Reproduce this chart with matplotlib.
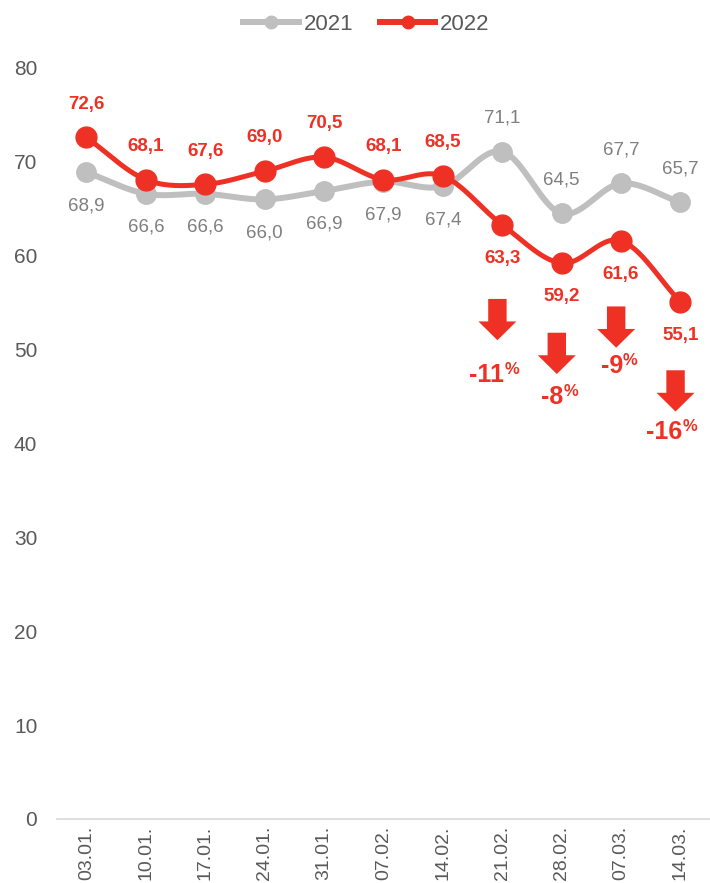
import numpy as np
import matplotlib
matplotlib.use('Agg')
import matplotlib.pyplot as plt
from matplotlib.lines import Line2D
from matplotlib.patches import FancyArrow

plt.rcParams['font.family'] = ['Liberation Sans', 'DejaVu Sans']

# weekly values, 2021 vs 2022
weeks = ['03.01.', '10.01.', '17.01.', '24.01.', '31.01.', '07.02.', '14.02.',
         '21.02.', '28.02.', '07.03.', '14.03.']
vals_2021 = [68.9, 66.6, 66.6, 66.0, 66.9, 67.9, 67.4, 71.1, 64.5, 67.7, 65.7]
vals_2022 = [72.6, 68.1, 67.6, 69.0, 70.5, 68.1, 68.5, 63.3, 59.2, 61.6, 55.1]

# label above (1) or below (-1) the point
pos_2021 = [-1, -1, -1, -1, -1, -1, -1, 1, 1, 1, 1]
pos_2022 = [1, 1, 1, 1, 1, 1, 1, -1, -1, -1, -1]

# drop markers: week index, arrow top, text centre (y units)
drop_idx = [7, 8, 9, 10]
drop_top = [55.4, 51.8, 54.6, 47.8]
drop_text_y = [47.3, 44.9, 48.3, 41.2]

RED = '#EE3124'
GREY = '#BFBFBF'
GREY_TXT = '#7F7F7F'


def smooth(y, n=30):
    # catmull-rom pass through the points, similar to a spreadsheet "smoothed line"
    y = np.asarray(y, dtype=float)
    x = np.arange(len(y), dtype=float)
    px = np.concatenate([[2 * x[0] - x[1]], x, [2 * x[-1] - x[-2]]])
    py = np.concatenate([[2 * y[0] - y[1]], y, [2 * y[-1] - y[-2]]])
    xs, ys = [], []
    t = np.linspace(0, 1, n, endpoint=False)
    for i in range(1, len(px) - 2):
        for arr, out in ((px, xs), (py, ys)):
            p0, p1, p2, p3 = arr[i - 1], arr[i], arr[i + 1], arr[i + 2]
            out.extend(0.5 * ((2 * p1) + (-p0 + p2) * t +
                              (2 * p0 - 5 * p1 + 4 * p2 - p3) * t ** 2 +
                              (-p0 + 3 * p1 - 3 * p2 + p3) * t ** 3))
    xs.append(x[-1])
    ys.append(y[-1])
    return np.array(xs), np.array(ys)


fig = plt.figure(figsize=(7.1, 8.83), dpi=100)
ax = fig.add_axes([0.080, 0.0725, 0.92, 0.8505])

x = np.arange(len(weeks))

sx, sy = smooth(vals_2021)
ax.plot(sx, sy, color=GREY, lw=4.3, solid_capstyle='round', zorder=2)
ax.plot(x, vals_2021, 'o', color=GREY, ms=14, zorder=3)

sx, sy = smooth(vals_2022)
ax.plot(sx, sy, color=RED, lw=3.6, solid_capstyle='round', zorder=4)
ax.plot(x, vals_2022, 'o', color=RED, ms=15, zorder=5)

for i, (v, p) in enumerate(zip(vals_2021, pos_2021)):
    ax.annotate('{:.1f}'.format(v).replace('.', ','), (i, v), xytext=(0, 24 * p),
                textcoords='offset points', ha='center', va='center',
                fontsize=13.5, color=GREY_TXT)

for i, (v, p) in enumerate(zip(vals_2022, pos_2022)):
    ax.annotate('{:.1f}'.format(v).replace('.', ','), (i, v), xytext=(0, 24 * p),
                textcoords='offset points', ha='center', va='center',
                fontsize=13.5, color=RED, fontweight='bold')

# year-on-year drop arrows
for i, top, ty in zip(drop_idx, drop_top, drop_text_y):
    xc = i - 0.08
    ax.add_patch(FancyArrow(xc, top, 0, -4.4, width=0.31, head_width=0.64,
                            head_length=2.0, length_includes_head=True,
                            color=RED, lw=0, zorder=6))
    pct = round((vals_2022[i] / vals_2021[i] - 1) * 100)
    ax.annotate('{:d}'.format(pct), (xc, ty), xytext=(5, 0), textcoords='offset points',
                ha='right', va='center', fontsize=18, fontweight='bold', color=RED)
    ax.annotate('%', (xc, ty), xytext=(5, 4), textcoords='offset points',
                ha='left', va='center', fontsize=12, fontweight='bold', color=RED)

ax.set_xlim(-0.5, len(weeks) - 0.5)
ax.set_ylim(0, 80)
ax.set_yticks(np.arange(0, 81, 10))
ax.set_xticks(x)
ax.set_xticklabels(weeks, rotation=90)
ax.tick_params(axis='both', length=0, labelsize=14, labelcolor='#595959')
ax.tick_params(axis='y', pad=14, labelsize=15)
ax.tick_params(axis='x', pad=5)
for s in ['top', 'right', 'left']:
    ax.spines[s].set_visible(False)
ax.spines['bottom'].set_color('#D9D9D9')
ax.spines['bottom'].set_linewidth(1.2)

handles = [Line2D([], [], color=GREY, lw=4.3, marker='o', ms=9),
           Line2D([], [], color=RED, lw=4.3, marker='o', ms=9)]
fig.legend(handles, ['2021', '2022'], loc='upper center', bbox_to_anchor=(0.516, 1.007),
           ncol=2, frameon=False, fontsize=16, handlelength=2.5, handletextpad=0.2,
           columnspacing=1.2, labelcolor='#595959')

plt.savefig('out.png', dpi=100)
